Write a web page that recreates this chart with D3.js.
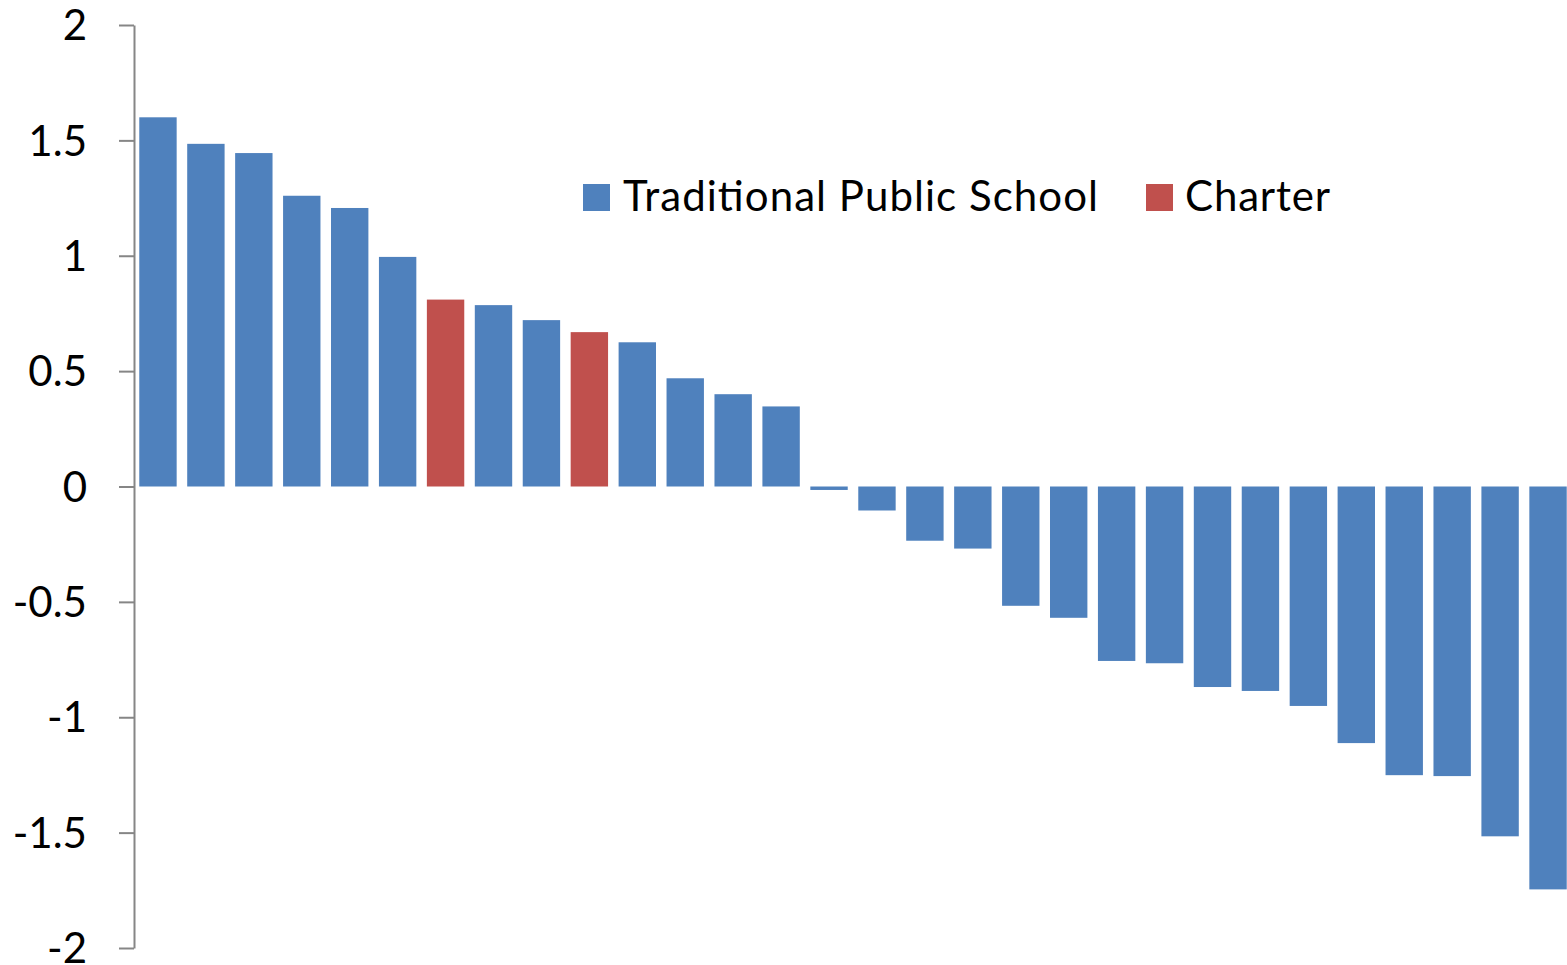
<!DOCTYPE html>
<html>
<head>
<meta charset="utf-8">
<script src="https://cdn.jsdelivr.net/npm/d3@7"></script>
<style>
  body { margin: 0; background: #fff; }
  text { font-family: Lato, "Open Sans", sans-serif; fill: #000; }
</style>
</head>
<body>
<div id="chart"></div>
<script>
// Chart data: one value per school, sorted high to low
const schools = d3.range(1, 31).map((i) => "S" + i);
const values = [
  1.6, 1.485, 1.445, 1.26, 1.207, 0.995, 0.81, 0.786, 0.721, 0.669,
  0.625, 0.469, 0.4, 0.347, -0.015, -0.104, -0.235, -0.269, -0.517, -0.569,
  -0.756, -0.766, -0.869, -0.886, -0.951, -1.112, -1.251, -1.255, -1.516, -1.746
];
const types = [
  "T", "T", "T", "T", "T", "T", "C", "T", "T", "C",
  "T", "T", "T", "T", "T", "T", "T", "T", "T", "T",
  "T", "T", "T", "T", "T", "T", "T", "T", "T", "T"
];
const yTicks = [2, 1.5, 1, 0.5, 0, -0.5, -1, -1.5, -2];
const legendLabels = ["Traditional Public School", "Charter"];
const colors = { T: "#4F81BD", C: "#C0504D" };

const width = 1567, height = 965;

const svg = d3.select("#chart")
  .append("svg")
  .attr("width", width)
  .attr("height", height);

// Scales
const x = d3.scaleBand()
  .domain(schools)
  .range([134, 1572])
  .paddingInner(0.22)
  .paddingOuter(0.11);

const y = d3.scaleLinear()
  .domain([-2, 2])
  .range([948, 25]);

// Bars
svg.append("g")
  .selectAll("rect")
  .data(values)
  .join("rect")
  .attr("x", (d, i) => x(schools[i]))
  .attr("width", x.bandwidth())
  .attr("y", (d) => y(Math.max(0, d)))
  .attr("height", (d) => Math.abs(y(d) - y(0)))
  .attr("fill", (d, i) => colors[types[i]]);

// Y axis
const yAxis = svg.append("g")
  .attr("transform", "translate(134,0)")
  .call(d3.axisLeft(y)
    .tickValues(yTicks)
    .tickFormat((d) => String(d))
    .tickSize(15)
    .tickSizeOuter(0)
    .tickPadding(32));

yAxis.select(".domain").attr("stroke", "#868686").attr("stroke-width", 2);
yAxis.selectAll(".tick line").attr("stroke", "#868686").attr("stroke-width", 2);
yAxis.selectAll(".tick text")
  .attr("fill", "#000")
  .style("font-size", "42px")
  .attr("dy", "0.35em");

// Legend
const legendX = [583, 1146];
const legendWidths = [475, 145];
const legend = svg.append("g")
  .selectAll("g")
  .data(legendLabels)
  .join("g")
  .attr("transform", (d, i) => `translate(${legendX[i]},184)`);

legend.append("rect")
  .attr("width", 27)
  .attr("height", 27)
  .attr("fill", (d, i) => colors[i === 0 ? "T" : "C"]);

legend.append("text")
  .attr("x", (d, i) => (i === 0 ? 40 : 39))
  .attr("y", 27)
  .attr("textLength", (d, i) => legendWidths[i])
  .attr("lengthAdjust", "spacing")
  .style("font-size", "42px")
  .text((d) => d);
</script>
</body>
</html>
